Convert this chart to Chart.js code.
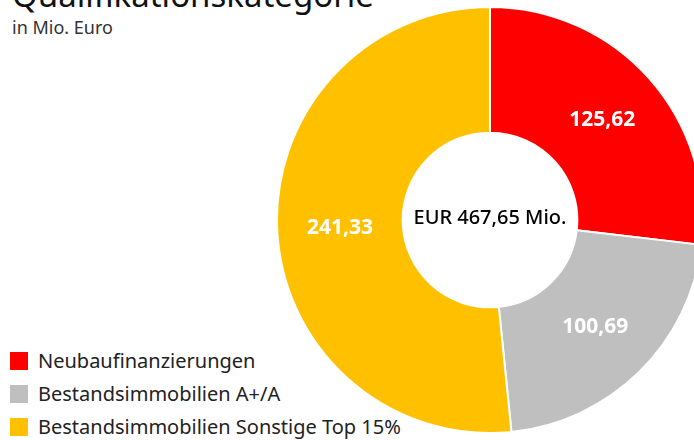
<!DOCTYPE html>
<html>
<head>
<meta charset="utf-8">
<script src="https://cdn.jsdelivr.net/npm/chart.js@4"></script>
<style>
  body { margin:0; width:694px; height:440px; overflow:hidden; background:#fff; font-family:"Noto Sans", sans-serif; position:relative; }
  #title { position:absolute; left:12px; top:-28px; font-size:33px; color:#111; white-space:nowrap; }
  #sub { position:absolute; left:12px; top:15px; font-size:18px; color:#333; }
  #legend { position:absolute; left:10px; top:344px; }
  .row { height:33px; display:flex; align-items:center; font-size:20px; color:#222; white-space:nowrap; }
  .box { width:18px; height:18px; margin-right:10px; }
  #wrap { position:absolute; left:276px; top:6px; }
</style>
</head>
<body>
<div id="title">Qualifikationskategorie</div>
<div id="sub">in Mio. Euro</div>
<div id="legend"></div>
<div id="wrap"><canvas id="myDonut" width="428" height="428"></canvas></div>
<script>
var labels = ["Neubaufinanzierungen", "Bestandsimmobilien A+/A", "Bestandsimmobilien Sonstige Top 15%"];
var values = [125.62, 100.69, 241.33];
var colors = ["#FF0000", "#BFBFBF", "#FFC000"];
var centerText = "EUR 467,65 Mio.";

// legend links unten
var legend = document.getElementById("legend");
for (var i = 0; i < labels.length; i++) {
    var row = document.createElement("div");
    row.className = "row";
    row.innerHTML = "<div class='box' style='background:" + colors[i] + "'></div>" + labels[i];
    legend.appendChild(row);
}

function fmt(v) {
    return v.toFixed(2).replace(".", ",");
}

// Zahlen in den Segmenten + Text in der Mitte
var donutText = {
    id: "donutText",
    afterDatasetsDraw: function(chart) {
        var ctx = chart.ctx;
        var meta = chart.getDatasetMeta(0);
        ctx.save();
        ctx.textAlign = "center";
        ctx.textBaseline = "middle";
        ctx.fillStyle = "#fff";
        ctx.font = "bold 21px 'Noto Sans'";
        meta.data.forEach(function(arc, i) {
            var p = arc.tooltipPosition();
            ctx.fillText(fmt(values[i]), p.x, p.y);
        });
        var c = meta.data[0];
        ctx.fillStyle = "#000";
        ctx.font = "500 20px 'Noto Sans'";
        ctx.fillText(centerText, c.x, c.y - 2);
        ctx.restore();
    }
};

var ctx = document.getElementById("myDonut");
var myDonut = new Chart(ctx, {
    type: "doughnut",
    data: {
        labels: labels,
        datasets: [{
            data: values,
            backgroundColor: colors,
            borderColor: "#fff",
            borderWidth: 2
        }]
    },
    options: {
        responsive: false,
        animation: false,
        cutout: "41%",
        layout: { padding: 0 },
        plugins: {
            legend: { display: false },
            tooltip: { enabled: false }
        }
    },
    plugins: [donutText]
});
</script>
</body>
</html>
